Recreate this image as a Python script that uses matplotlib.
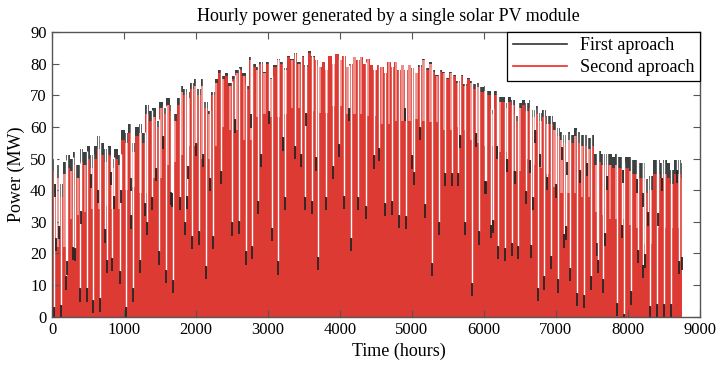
import numpy as np
import matplotlib
matplotlib.use("Agg")
import matplotlib.pyplot as plt

# ---- data ----
bin_hours = 48  # each value = peak of a 2-day block
peak_second = [
    46, 44, 38, 45, 47, 46, 48, 44, 49, 48, 50, 47, 50, 53, 51, 49, 51, 47, 50, 48,
    56, 55, 58, 52, 57, 58, 55, 64, 62, 63, 60, 66, 64, 67, 65, 62, 67, 71, 70, 69,
    72, 73, 70, 73, 66, 64, 70, 74, 77, 75, 76, 73, 75, 77, 78, 76, 72, 81, 79, 78,
    80, 77, 80, 75, 79, 81, 80, 78, 82, 81, 83, 80, 82, 79, 83.5, 82, 81, 79, 80.5, 78,
    82.5, 80, 83, 81, 82.5, 79, 80, 82, 81, 82, 80, 81.5, 79.5, 78, 79.5, 79, 77, 80.5, 79, 80.5,
    78, 79.5, 78, 79.5, 78.5, 77, 79, 81, 78, 80, 77.5, 76, 77.5, 77, 75, 77, 76, 74, 76, 73,
    75, 74, 72, 72.5, 71, 71.5, 70, 64, 70, 68, 68, 66, 68, 67, 62, 66, 67, 65, 66, 63,
    64, 62, 63, 61, 61, 59, 57, 56, 55, 56, 55, 57, 55, 54, 54, 53, 54, 48, 49, 48,
    48, 48, 47, 48, 47, 45, 47, 46, 45, 45, 44, 44, 39, 40, 45, 45, 44, 45, 44, 42,
    45, 45, 44,
]
# extra height of the first approach over the second, by month
first_excess = [4.0, 3.0, 2.0, 1.0, 0.5, 0.0, 0.0, 0.5, 1.5, 2.5, 3.5, 4.5]
month_start_hour = [0, 744, 1416, 2160, 2880, 3624, 4344, 5088, 5832, 6552, 7296, 8016]

# cloudy days: (hour, daily peak)
dip_hours = [28, 45, 90, 115, 185, 208, 287, 315, 380, 405, 477, 570, 635, 663, 733, 765,
             835, 858, 937, 955, 1030, 1099, 1127, 1224, 1289, 1321, 1390, 1483, 1576, 1650,
             1678, 1780, 1840, 1878, 1947, 2040, 2137, 2230, 2494, 2591, 2689, 2782, 2856,
             3050, 3143, 3236, 3510, 3607, 3700, 3802, 4062, 4160, 4257, 4363, 4627, 4729,
             4826, 4919, 5183, 5281, 5378, 5740, 5832, 5930, 6027, 6097, 6125, 6194, 6291,
             6389, 6481, 6584, 6653, 6680, 6750, 6843, 6936, 7006, 7038, 7116, 7139, 7200,
             7302, 7395, 7492, 7570, 7593, 7663, 7691, 7849, 7919, 7951, 8049, 8151, 8212,
             8244, 8277, 8314, 8407, 8509, 8602, 8709, 8755,
             41, 539, 816, 1101, 1447, 1539, 1664, 1885, 2000, 2093, 2189, 2346, 2540, 2761,
             2900, 3015, 3211, 3372, 3463, 3532, 3670, 3900, 3991, 4119, 4472, 4541, 4899,
             5000, 5023, 5115, 5460, 5560, 5640, 5665, 5894, 6017, 6180, 6319, 6435, 6643,
             6713, 6782, 6875, 7084, 7153, 7339, 7432, 7710, 7942, 8127, 8220, 8428, 8475, 8683]
dip_levels = [3.2, 25, 28.7, 3.7, 12.8, 17.5, 22, 21.8, 9, 33.5, 9, 5.3, 40, 5.8, 27.6, 18,
              18.6, 38.3, 14.4, 40, 3.2, 32, 9, 18, 36, 30, 37.8, 20.7, 14.9, 39.4,
              11.7, 37.8, 30, 38.3, 25.5, 27, 16, 25.5, 29.8, 30.3, 20.7, 22.3, 36.7,
              28.2, 17.5, 37.8, 37.8, 36.7, 19, 37.8, 38.3, 25, 37.8, 35, 36, 36.5,
              32.3, 31.8, 35.5, 17, 30, 30, 10.7, 27, 43, 29, 30.7, 22.3, 21.8,
              23.4, 22.3, 39.7, 22.8, 38, 9.2, 12.8, 19.2, 41.8, 11.8, 26, 28.6, 15.5,
              7.6, 7, 12.8, 23.4, 18, 11.8, 26.5, 4.4, 29, 1, 8, 21.2, 16.5,
              19.7, 33, 3.4, 3.9, 3.9, 3.9, 17.6, 19,
              42, 45, 45.7, 44, 47, 57.2, 39, 47.8, 55, 51.5, 44, 46.2, 62.4, 64,
              51.5, 65, 56.7, 54, 51.5, 64.5, 50.4, 47.8, 54.6, 66, 51, 53.4, 66,
              51, 45.7, 60, 45.5, 45.5, 45.5, 57.5, 58, 43, 54, 50, 46, 49.5,
              59, 51.4, 44.3, 53.8, 49, 46.5, 48.6, 44.4, 46.5, 43.4, 39, 32.8, 44, 46.5]

xticks = [0, 1000, 2000, 3000, 4000, 5000, 6000, 7000, 8000, 9000]
yticks = [0, 10, 20, 30, 40, 50, 60, 70, 80, 90]

# ---- styles ----
RED = "#dc3a33"
PINK = "#ec8f8a"
CAP = "#3c4040"
LEG_BLACK = "#333333"
LEG_RED = "#ee2a22"

plt.rcParams['font.family'] = ['Liberation Serif', 'DejaVu Serif']

fig = plt.figure(figsize=(7.2, 3.65), dpi=100)
ax = fig.add_axes([0.0726, 0.1323, 0.899, 0.780])

n = len(peak_second)
edges = np.arange(n + 1) * bin_hours
edges = np.minimum(edges, 8760)
red_top = np.array(peak_second, dtype=float)
month_idx = np.searchsorted(month_start_hour, edges[:-1], side='right') - 1
first_top = red_top + np.array(first_excess)[month_idx]

# first approach caps
ax.fill_between(edges, np.append(first_top, first_top[-1]), 0, step='post',
                color=CAP, linewidth=0)
# second approach mass
ax.fill_between(edges, np.append(red_top, red_top[-1]), 0, step='post',
                color=RED, linewidth=0)
# lighter stripes in the upper part of alternate blocks
for i in range(1, n, 2):
    lo = min(red_top[i - 1], red_top[min(i + 1, n - 1)]) - 16
    if red_top[i] > lo:
        ax.bar(edges[i] + 7, red_top[i] - lo, width=bin_hours - 14, bottom=lo,
               align='edge', color=PINK, linewidth=0)

# cloudy days: white gap above, dark tick at the day's peak
for h, lvl in zip(dip_hours, dip_levels):
    k = min(int(h // bin_hours), n - 1)
    top = first_top[k]
    ax.vlines(h, lvl, top + 0.5, color='white', linewidth=1.0)
    ax.vlines(h, max(lvl - 4.2, 0), lvl, color='#262626', linewidth=1.3)

# legend handles
ax.plot([], [], color=LEG_BLACK, linewidth=1.2, label='First aproach')
ax.plot([], [], color=LEG_RED, linewidth=1.2, label='Second aproach')
leg = ax.legend(loc='upper right', bbox_to_anchor=(1.0, 1.0), borderaxespad=0,
                fancybox=False, framealpha=1, edgecolor='black', fontsize=13,
                handlelength=3.0, handletextpad=0.7, borderpad=0.3, labelspacing=0.25)
leg.get_frame().set_linewidth(0.9)

ax.set_xlim(0, 9000)
ax.set_ylim(0, 90)
ax.set_xticks(xticks)
ax.set_yticks(yticks)
ax.tick_params(direction='in', top=True, right=True, length=5, width=0.8,
               labelsize=12, colors='#555555', labelcolor='black', pad=4)
for s in ax.spines.values():
    s.set_color('#555555')
    s.set_linewidth(1.0)

ax.set_title('Hourly power generated by a single solar PV module', fontsize=13,
             pad=8, x=0.52)
ax.set_xlabel('Time (hours)', fontsize=13, labelpad=3)
ax.xaxis.set_label_coords(0.536, -0.09)
ax.set_ylabel('Power (MW)', fontsize=13, labelpad=4)

fig.savefig('out.png', dpi=100)
